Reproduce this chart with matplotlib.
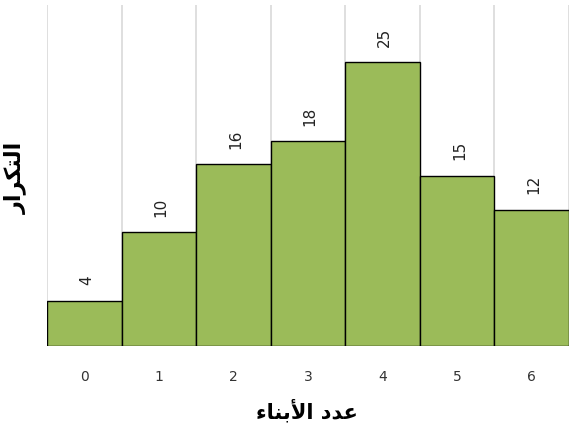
import matplotlib
matplotlib.use("Agg")
import matplotlib.pyplot as plt
import numpy as np

# data
children = [0, 1, 2, 3, 4, 5, 6]
freq = [4, 10, 16, 18, 25, 15, 12]

# arabic text, written in presentation forms (visual order) since matplotlib does no shaping
# "التكرار"
ylabel_txt = "\uFEAD\uFE8D\uFEAE\uFEDC\uFE98\uFEDF\uFE8D"
# "عدد الأبناء"
xlabel_txt = "\uFE80\uFE8E\uFEE8\uFE91\uFEF7\uFE8D \uFEA9\uFEAA\uFECB"

fig = plt.figure(figsize=(5.69, 4.33), dpi=100)
ax = fig.add_axes([47/569, 87/433, 522/569, 341/433])

x = np.arange(len(children))
bars = ax.bar(x, freq, width=1.0, color="#9BBB59", edgecolor="black", linewidth=1, zorder=3)

for b, v in zip(bars, freq):
    ax.annotate(str(v), (b.get_x() + b.get_width()/2 + 0.03, b.get_height()),
                xytext=(0, 11), textcoords="offset points",
                ha="center", va="bottom", rotation=90, fontsize=11, color="#222222")

# vertical grid lines at bar edges
for g in np.arange(-0.5, len(children), 1.0):
    ax.axvline(g, color="#d9d9d9", linewidth=1.2, zorder=1)

ax.set_xlim(-0.5, len(children) - 0.5)
ax.set_ylim(0, 30)
ax.set_xticks(x)
ax.set_xticklabels([str(c) for c in children], fontsize=10, color="#333333")
ax.tick_params(axis="x", length=0, pad=17)
ax.set_yticks([])
for s in ax.spines.values():
    s.set_visible(False)

fig.text(15/569, 1 - 178/433, ylabel_txt, rotation=90, ha="center", va="center",
         fontsize=16, fontweight="bold", family="DejaVu Sans")
fig.text(307/569, 1 - 411/433, xlabel_txt, ha="center", va="center",
         fontsize=15, fontweight="bold", family="DejaVu Sans")

fig.savefig("out.png", dpi=100)
